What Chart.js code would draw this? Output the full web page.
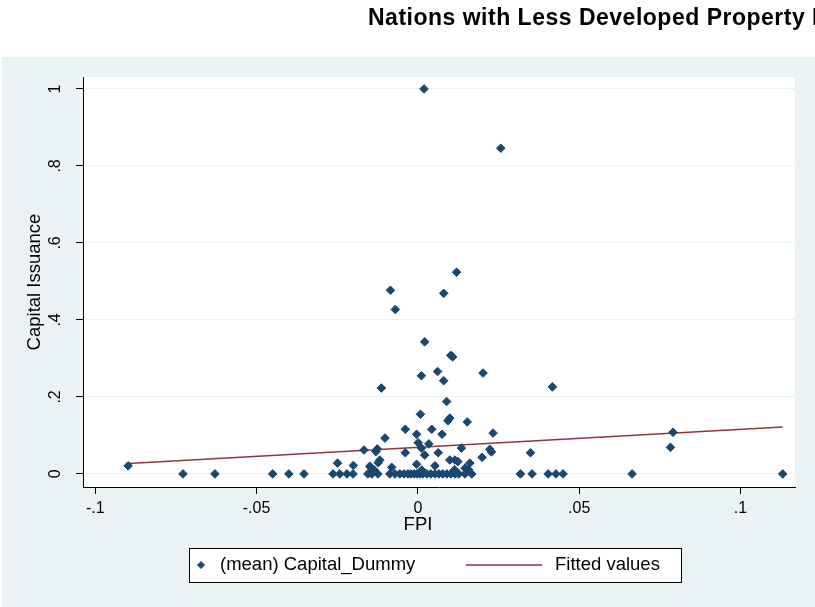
<!DOCTYPE html>
<html>
<head>
<meta charset="utf-8">
<title>Capital Issuance vs FPI</title>
<script src="https://cdn.jsdelivr.net/npm/chart.js@4.4.1/dist/chart.umd.min.js"></script>
<style>
  html, body { margin: 0; padding: 0; background: #ffffff; }
  #wrap { width: 815px; height: 607px; }
</style>
</head>
<body>
<div id="wrap"><canvas id="chart" width="815" height="607"></canvas></div>
<script>
// chart text
const chartTitle = 'Nations with Less Developed Property Rights';
const xTitle = 'FPI';
const yTitle = 'Capital Issuance';
const scatterLabel = '(mean) Capital_Dummy';
const fitLabel = 'Fitted values';

// axis ticks
const xTicks = [-0.1, -0.05, 0, 0.05, 0.1];
const xTickLabels = ['-.1', '-.05', '0', '.05', '.1'];
const yTicks = [0, 0.2, 0.4, 0.6, 0.8, 1];
const yTickLabels = ['0', '.2', '.4', '.6', '.8', '1'];

// scatter values (FPI, mean capital dummy)
const fpi = [
    0.0019, 0.0257, 0.0120, -0.0085, 0.0080, -0.0070, 0.0021, 0.0102, 0.0108, 0.0061,
    0.0011, 0.0080, 0.0202, -0.0113, 0.0417, 0.0089, 0.0008, 0.0099, 0.0093, 0.0153,
    -0.0039, 0.0043, -0.0004, 0.0075, 0.0233, -0.0102, 0.0001, 0.0011, 0.0034, -0.0167,
    -0.0126, -0.0130, 0.0135, 0.0223, 0.0228, -0.0039, 0.0021, 0.0063, 0.0199, 0.0349,
    -0.0118, -0.0123, -0.0200, -0.0249, -0.0149, 0.0099, 0.0115, 0.0124, 0.0161, -0.0004,
    0.0146, 0.0114, -0.0081, -0.0146, 0.0053, 0.0157, -0.0135, 0.0012, 0.0791, 0.0783,
    -0.0898,
    -0.0728, -0.0629, -0.0450, -0.0400, -0.0353, -0.0263, -0.0242, -0.0220, -0.0201, -0.0155,
    -0.0143, -0.0124, -0.0087, -0.0071, -0.0056, -0.0043, -0.0031, -0.0022, -0.0012, -0.0003,
    0.0006, 0.0015, 0.0028, 0.0040, 0.0053, 0.0065, 0.0077, 0.0090, 0.0102, 0.0115,
    0.0127, 0.0146, 0.0167, 0.0318, 0.0354, 0.0404, 0.0428, 0.0450, 0.0664, 0.1131
];
const capitalDummy = [
    1.000, 0.846, 0.524, 0.477, 0.469, 0.427, 0.343, 0.308, 0.304, 0.266,
    0.255, 0.242, 0.262, 0.223, 0.226, 0.188, 0.155, 0.145, 0.138, 0.135,
    0.116, 0.116, 0.103, 0.103, 0.106, 0.093, 0.081, 0.067, 0.078, 0.062,
    0.065, 0.058, 0.067, 0.064, 0.057, 0.055, 0.049, 0.055, 0.043, 0.055,
    0.036, 0.029, 0.022, 0.028, 0.020, 0.036, 0.036, 0.032, 0.028, 0.025,
    0.015, 0.011, 0.017, 0.017, 0.021, 0.011, 0.010, 0.010, 0.108, 0.069,
    0.021,
    0, 0, 0, 0, 0, 0, 0, 0, 0, 0,
    0, 0, 0, 0, 0, 0, 0, 0, 0, 0,
    0, 0, 0, 0, 0, 0, 0, 0, 0, 0,
    0, 0, 0, 0, 0, 0, 0, 0, 0, 0
];

// fitted line end points
const fitX = [-0.0898, 0.1131];
const fitY = [0.027, 0.122];

const navy = '#1a476f';
const maroon = '#90353b';
const regionBg = '#eaf2f3';
const font = '"Liberation Sans", Arial, sans-serif';

// Stata-like background, titles and legend box
const stataFrame = {
    id: 'stataFrame',
    beforeDraw(chart) {
        const { ctx, chartArea: a } = chart;
        ctx.save();
        ctx.fillStyle = '#ffffff';
        ctx.fillRect(0, 0, chart.width, chart.height);
        ctx.fillStyle = regionBg;
        ctx.fillRect(2, 57, chart.width - 2, chart.height - 57);
        ctx.fillStyle = '#ffffff';
        ctx.fillRect(a.left, a.top, a.right - a.left, a.bottom - a.top);

        ctx.fillStyle = '#000000';
        ctx.font = 'bold 23px ' + font;
        ctx.letterSpacing = '0.5px';
        ctx.textBaseline = 'middle';
        ctx.textAlign = 'left';
        ctx.fillText(chartTitle, 368, 19);
        ctx.restore();
    },
    afterDraw(chart) {
        const { ctx } = chart;
        const sets = chart.data.datasets;
        const bx = 189, by = 548, bw = 492, bh = 34;
        const cy = by + bh / 2;
        ctx.save();

        // x axis title (sits under the zero tick in the original)
        ctx.fillStyle = '#000000';
        ctx.font = '18.5px ' + font;
        ctx.textBaseline = 'middle';
        ctx.textAlign = 'center';
        ctx.fillText(xTitle, 418, 525);

        ctx.fillStyle = '#ffffff';
        ctx.fillRect(bx, by, bw, bh);
        ctx.strokeStyle = '#000000';
        ctx.lineWidth = 1;
        ctx.strokeRect(bx + 0.5, by + 0.5, bw, bh);

        // marker sample
        ctx.fillStyle = navy;
        ctx.strokeStyle = navy;
        Chart.helpers.drawPoint(ctx, { pointStyle: 'rectRot', radius: 3.5, borderWidth: 1 }, 201, cy);

        // line sample
        ctx.strokeStyle = maroon;
        ctx.lineWidth = 1.5;
        ctx.beginPath();
        ctx.moveTo(466, cy);
        ctx.lineTo(542, cy);
        ctx.stroke();

        ctx.fillStyle = '#000000';
        ctx.textAlign = 'left';
        ctx.fillText(sets[0].label, 220, cy);
        ctx.fillText(sets[1].label, 555, cy);
        ctx.restore();
    }
};

const points = fpi.map((x, i) => ({ x: x, y: capitalDummy[i] }));
const fitPoints = fitX.map((x, i) => ({ x: x, y: fitY[i] }));

const chart = new Chart(document.getElementById('chart'), {
    type: 'scatter',
    data: {
        datasets: [
            {
                label: scatterLabel,
                data: points,
                pointStyle: 'rectRot',
                pointRadius: 4.3,
                pointHoverRadius: 4.3,
                backgroundColor: navy,
                borderColor: navy,
                borderWidth: 1
            },
            {
                type: 'line',
                label: fitLabel,
                data: fitPoints,
                borderColor: maroon,
                borderWidth: 1.5,
                pointRadius: 0,
                fill: false,
                showLine: true
            }
        ]
    },
    options: {
        responsive: false,
        animation: false,
        events: [],
        layout: {
            padding: { top: 77, right: 20, bottom: 70, left: 0 }
        },
        plugins: {
            legend: { display: false },
            title: { display: false },
            tooltip: { enabled: false }
        },
        scales: {
            x: {
                type: 'linear',
                min: -0.1038,
                max: 0.1169,
                afterBuildTicks: (scale) => {
                    scale.ticks = xTicks.map(v => ({ value: v }));
                },
                afterFit: (scale) => {
                    scale.height = 50;
                },
                ticks: {
                    autoSkip: false,
                    maxRotation: 0,
                    padding: 5,
                    color: '#000000',
                    font: { family: font, size: 16 },
                    callback: (value) => xTickLabels[xTicks.indexOf(value)]
                },
                grid: {
                    drawOnChartArea: false,
                    tickColor: '#000000',
                    tickLength: 7
                },
                border: { display: true, color: '#000000', width: 1 }
            },
            y: {
                type: 'linear',
                min: -0.034,
                max: 1.031,
                afterBuildTicks: (scale) => {
                    scale.ticks = yTicks.map(v => ({ value: v }));
                },
                afterFit: (scale) => {
                    scale.width = 83;
                },
                ticks: {
                    autoSkip: false,
                    minRotation: 90,
                    maxRotation: 90,
                    crossAlign: 'center',
                    padding: 14,
                    color: '#000000',
                    font: { family: font, size: 16 },
                    callback: (value) => yTickLabels[yTicks.indexOf(value)]
                },
                grid: {
                    color: regionBg,
                    tickColor: '#000000',
                    tickLength: 7
                },
                border: { display: true, color: '#000000', width: 1 },
                title: {
                    display: true,
                    text: yTitle,
                    color: '#000000',
                    font: { family: font, size: 18.5 },
                    padding: { top: 24, bottom: 0 }
                }
            }
        }
    },
    plugins: [stataFrame]
});
</script>
</body>
</html>
